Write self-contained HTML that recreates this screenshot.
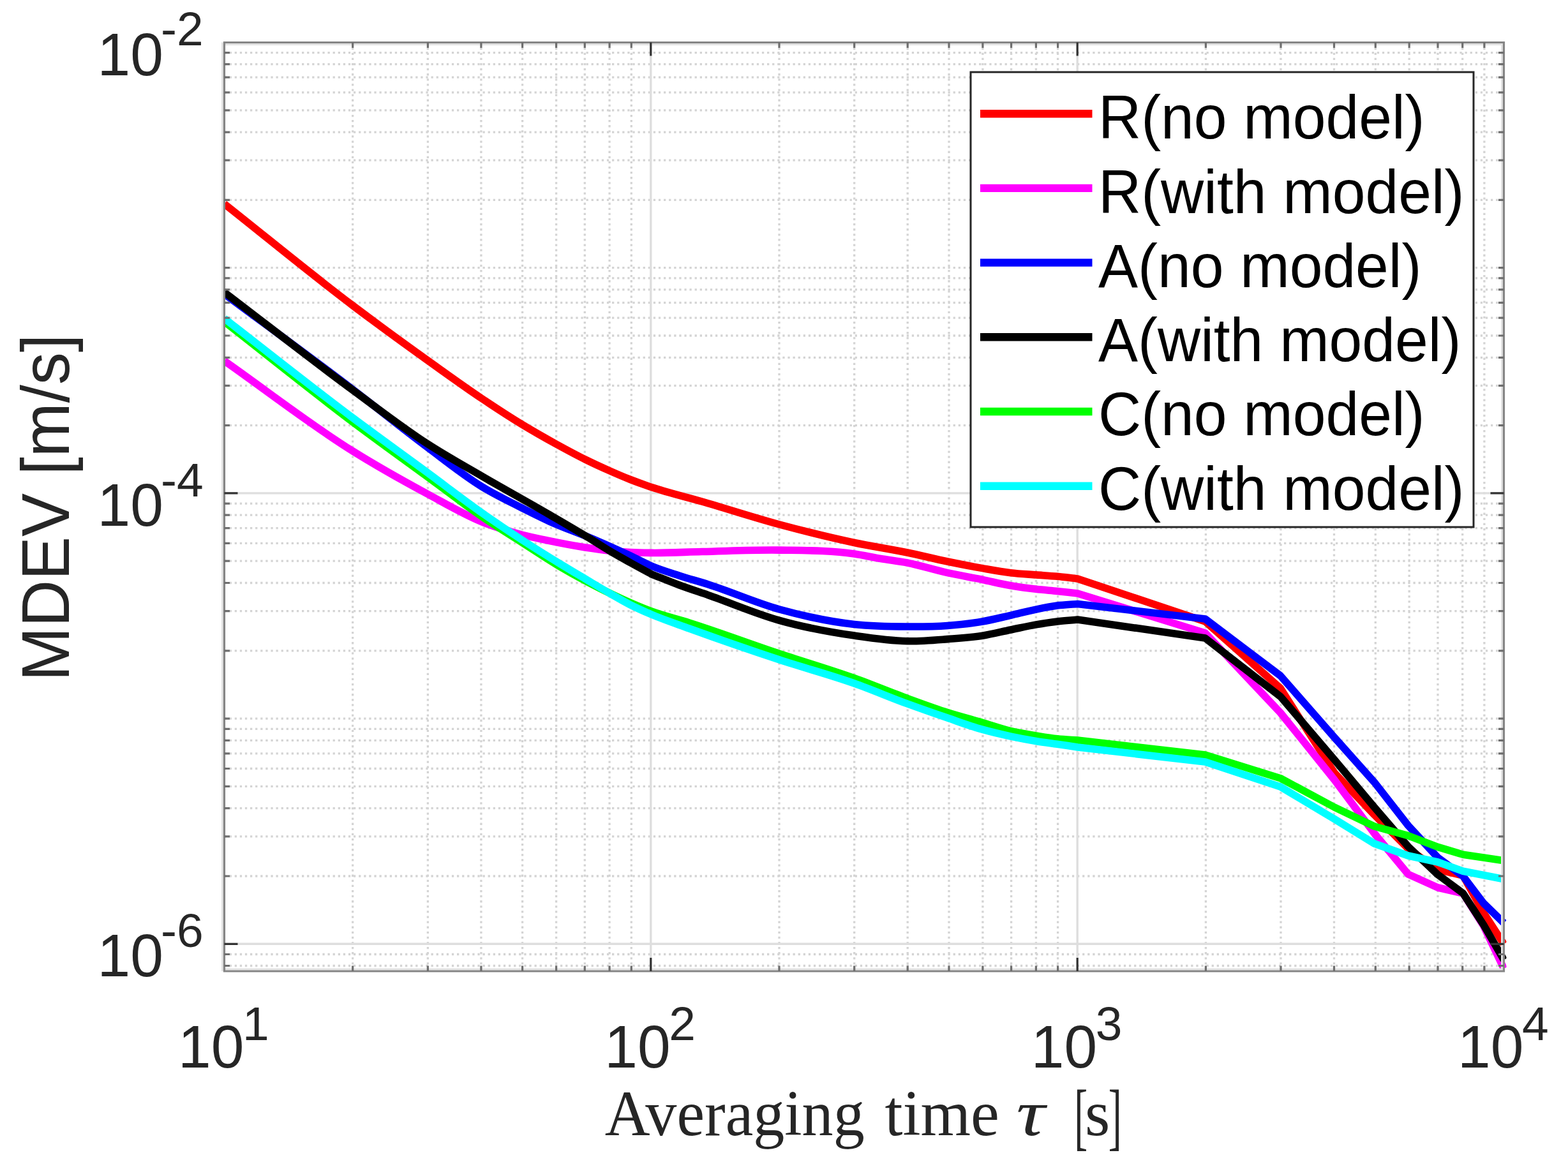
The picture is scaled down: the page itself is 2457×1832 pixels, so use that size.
<!DOCTYPE html><html><head><meta charset="utf-8"><style>html,body{margin:0;padding:0;background:#fff;overflow:hidden}svg{display:block}</style></head><body>
<svg xmlns="http://www.w3.org/2000/svg" width="2457" height="1832" viewBox="0 0 2457 1832">
<rect x="0" y="0" width="2457" height="1832" fill="#fff"/>
<path d="M552.7 66.5V1522.0 M670.4 66.5V1522.0 M753.9 66.5V1522.0 M818.6 66.5V1522.0 M871.6 66.5V1522.0 M916.3 66.5V1522.0 M955.1 66.5V1522.0 M989.3 66.5V1522.0 M1221.0 66.5V1522.0 M1338.7 66.5V1522.0 M1422.2 66.5V1522.0 M1487.0 66.5V1522.0 M1539.9 66.5V1522.0 M1584.6 66.5V1522.0 M1623.4 66.5V1522.0 M1657.6 66.5V1522.0 M1889.4 66.5V1522.0 M2007.0 66.5V1522.0 M2090.5 66.5V1522.0 M2155.3 66.5V1522.0 M2208.2 66.5V1522.0 M2253.0 66.5V1522.0 M2291.7 66.5V1522.0 M2325.9 66.5V1522.0 M351.5 1513.5H2356.5 M351.5 1495.5H2356.5 M351.5 1373.0H2356.5 M351.5 1310.8H2356.5 M351.5 1266.7H2356.5 M351.5 1232.4H2356.5 M351.5 1204.5H2356.5 M351.5 1180.8H2356.5 M351.5 1160.3H2356.5 M351.5 1142.3H2356.5 M351.5 1126.1H2356.5 M351.5 1019.8H2356.5 M351.5 957.6H2356.5 M351.5 913.5H2356.5 M351.5 879.2H2356.5 M351.5 851.3H2356.5 M351.5 827.6H2356.5 M351.5 807.1H2356.5 M351.5 789.1H2356.5 M351.5 666.6H2356.5 M351.5 604.4H2356.5 M351.5 560.3H2356.5 M351.5 526.0H2356.5 M351.5 498.1H2356.5 M351.5 474.4H2356.5 M351.5 453.9H2356.5 M351.5 435.9H2356.5 M351.5 419.7H2356.5 M351.5 313.4H2356.5 M351.5 251.2H2356.5 M351.5 207.1H2356.5 M351.5 172.8H2356.5 M351.5 144.9H2356.5 M351.5 121.2H2356.5 M351.5 100.7H2356.5 M351.5 82.7H2356.5" stroke="#d4d4d4" stroke-width="3.3" stroke-dasharray="3.3 4.8" fill="none"/>
<path d="M1019.8 66.5V1522.0 M1688.2 66.5V1522.0 M351.5 772.9H2356.5 M351.5 1479.3H2356.5" stroke="#dedede" stroke-width="3.4" fill="none"/>
<defs><clipPath id="ax"><rect x="347.5" y="66.5" width="2013.0" height="1457.5"/></clipPath></defs>
<g clip-path="url(#ax)" fill="none" stroke-width="11.6" stroke-linejoin="round">
<path d="M351.5 319.5C418.9 372.8 486.3 428.7 553.7 479.5C592.4 508.7 631.0 536.8 669.7 564.5C698.4 585.0 727.0 605.8 755.7 625.0C776.4 638.8 797.1 652.4 817.8 665.0C835.7 675.9 853.7 686.1 871.6 696.0C887.1 704.5 902.5 712.9 918.0 720.5C930.2 726.5 942.4 732.1 954.6 737.5C965.6 742.4 976.7 747.2 987.7 751.5C998.8 755.8 1009.8 759.8 1020.9 763.5C1047.3 772.4 1073.6 778.4 1100.0 786.0C1140.5 797.7 1181.0 811.1 1221.5 822.0C1260.6 832.5 1299.6 842.3 1338.7 850.5C1366.4 856.3 1394.0 860.3 1421.7 866.0C1442.7 870.3 1463.7 875.7 1484.7 880.0C1503.0 883.8 1521.3 887.4 1539.6 890.6C1554.3 893.2 1569.1 896.0 1583.8 897.7C1597.0 899.3 1610.3 899.9 1623.5 900.9C1634.5 901.7 1645.6 902.3 1656.6 903.3C1667.2 904.3 1677.9 905.8 1688.5 907.0L1888.5 974.0L2006.4 1078.6L2090.9 1211.0L2153.5 1277.0L2206.5 1330.0L2253.0 1362.8L2292.5 1372.0L2324.7 1430.5L2356.5 1479.5" stroke="#ff0000"/>
<path d="M351.5 565.5C418.9 612.8 486.3 665.7 553.7 707.5C592.3 731.5 631.0 753.2 669.6 774.0C698.3 789.4 726.9 806.5 755.6 818.0C776.3 826.3 797.1 832.6 817.8 838.0C831.9 841.7 845.9 844.5 860.0 847.4C879.1 851.4 898.3 855.1 917.4 858.0C929.9 859.9 942.5 861.7 955.0 863.0C966.0 864.1 977.0 864.9 988.0 865.5C999.0 866.1 1009.9 866.3 1020.9 866.4C1047.3 866.7 1073.6 865.1 1100.0 864.5C1140.5 863.6 1181.0 861.5 1221.5 862.1C1260.6 862.7 1299.6 862.2 1338.7 868.0C1352.5 870.0 1366.2 873.2 1380.0 875.5C1393.9 877.8 1407.8 879.3 1421.7 882.0C1442.7 886.1 1463.7 893.1 1484.7 897.7C1503.0 901.7 1521.3 904.8 1539.6 908.5C1554.3 911.5 1569.1 915.2 1583.8 917.7C1597.0 920.0 1610.3 921.8 1623.5 923.3C1634.5 924.6 1645.6 925.3 1656.6 926.4C1667.2 927.5 1677.9 928.8 1688.5 930.0L1888.5 992.0L2006.4 1117.0L2090.9 1222.0L2153.5 1306.0L2206.5 1370.0L2253.0 1391.0L2292.5 1400.0L2324.7 1451.0L2356.5 1518.0" stroke="#ff00ff"/>
<path d="M351.5 460.5C418.9 510.7 486.3 559.5 553.7 611.0C592.3 640.5 631.0 672.1 669.6 700.9C698.3 722.3 726.9 745.5 755.6 763.0C776.3 775.7 797.1 785.5 817.8 796.0C831.9 803.1 845.9 810.2 860.0 816.6C883.3 827.3 906.7 835.0 930.0 845.0C949.3 853.3 968.7 861.9 988.0 871.0C999.0 876.2 1009.9 882.3 1020.9 887.0C1035.3 893.1 1049.6 897.3 1064.0 902.0C1079.3 907.0 1094.7 911.1 1110.0 916.0C1147.2 927.8 1184.3 944.7 1221.5 955.0C1260.6 965.8 1299.6 974.3 1338.7 978.5C1366.4 981.5 1394.0 981.9 1421.7 982.0C1442.7 982.1 1463.7 982.1 1484.7 980.5C1503.0 979.1 1521.3 977.2 1539.6 974.0C1554.3 971.4 1569.1 967.6 1583.8 964.3C1597.0 961.3 1610.3 957.8 1623.5 955.1C1634.5 952.8 1645.6 950.5 1656.6 949.1C1667.2 947.7 1677.9 947.4 1688.5 946.5L1888.5 970.0L2006.4 1059.0L2090.9 1155.6L2153.5 1225.8L2206.5 1293.6L2253.0 1344.0L2292.5 1373.0L2324.7 1415.5L2356.5 1446.5" stroke="#0000ff"/>
<path d="M351.5 458.0C418.9 509.3 486.3 562.5 553.7 612.0C592.3 640.4 631.0 670.4 669.6 695.4C698.3 714.0 726.9 729.8 755.6 746.5C790.4 766.8 825.2 785.7 860.0 806.0C883.3 819.6 906.7 833.1 930.0 847.5C938.3 852.6 946.5 858.0 954.8 863.0C965.8 869.6 976.7 875.6 987.7 881.7C998.8 887.9 1009.8 893.8 1020.9 899.8C1035.3 905.5 1049.6 911.5 1064.0 916.8C1079.3 922.5 1094.7 927.4 1110.0 932.7C1147.2 945.6 1184.3 961.9 1221.5 972.3C1260.6 983.3 1299.6 990.4 1338.7 996.1C1366.4 1000.1 1394.0 1004.2 1421.7 1004.7C1442.7 1005.1 1463.7 1003.2 1484.7 1001.6C1503.0 1000.2 1521.3 999.1 1539.6 996.2C1554.3 993.9 1569.1 990.0 1583.8 987.0C1597.0 984.3 1610.3 981.2 1623.5 978.9C1634.5 977.0 1645.6 975.3 1656.6 974.0C1667.2 972.7 1677.9 972.0 1688.5 971.0L1888.5 1000.0L2006.4 1091.6L2090.9 1190.4L2153.5 1265.0L2206.5 1326.6L2253.0 1370.7L2292.5 1399.8L2324.7 1449.4L2356.5 1504.4" stroke="#000000"/>
<path d="M351.5 504.0C418.9 556.7 486.3 611.4 553.7 662.0C592.3 691.0 631.0 718.7 669.6 747.0C698.3 768.0 726.9 790.5 755.6 810.0C776.3 824.1 797.1 836.8 817.8 850.0C838.5 863.2 859.3 877.3 880.0 889.5C900.0 901.3 920.0 912.0 940.0 922.0C967.0 935.5 993.9 948.2 1020.9 958.0C1040.6 965.2 1060.3 969.8 1080.0 976.0C1127.2 990.9 1174.3 1008.7 1221.5 1024.5C1260.6 1037.5 1299.6 1048.8 1338.7 1062.8C1366.4 1072.7 1394.0 1084.4 1421.7 1094.5C1442.7 1102.1 1463.6 1109.9 1484.6 1116.6C1502.8 1122.4 1520.9 1127.0 1539.1 1132.3C1554.1 1136.7 1569.1 1142.1 1584.1 1145.7C1597.2 1148.8 1610.2 1150.8 1623.3 1152.9C1634.5 1154.7 1645.6 1156.6 1656.8 1157.8C1667.4 1158.9 1677.9 1159.3 1688.5 1160.0L1888.5 1183.0L2006.4 1219.7L2090.9 1265.0L2153.5 1295.0L2206.5 1309.6L2253.0 1327.4L2292.5 1339.2L2324.7 1344.0L2356.5 1348.7" stroke="#00ff00"/>
<path d="M351.5 499.0C418.9 551.2 486.3 605.1 553.7 655.5C592.3 684.4 631.0 712.1 669.6 740.5C698.3 761.6 726.9 783.9 755.6 804.0C776.3 818.5 797.1 832.5 817.8 846.0C838.5 859.5 859.3 872.4 880.0 885.0C892.3 892.5 904.5 899.7 916.8 907.0C929.6 914.6 942.3 922.3 955.1 929.6C966.1 935.9 977.0 942.4 988.0 948.0C999.0 953.6 1009.9 958.3 1020.9 963.0C1040.6 971.4 1060.3 977.8 1080.0 985.0C1127.2 1002.2 1174.3 1018.5 1221.5 1034.0C1260.6 1046.9 1299.6 1057.1 1338.7 1071.0C1366.4 1080.8 1394.0 1092.8 1421.7 1102.9C1442.7 1110.6 1463.6 1117.9 1484.6 1125.1C1502.8 1131.3 1520.9 1138.1 1539.1 1143.2C1554.1 1147.4 1569.1 1150.9 1584.1 1154.1C1597.2 1156.9 1610.2 1159.3 1623.3 1161.4C1634.5 1163.2 1645.6 1164.6 1656.8 1166.2C1667.4 1167.8 1677.9 1169.4 1688.5 1171.0L1888.5 1194.0L2006.4 1233.0L2090.9 1283.5L2153.5 1322.0L2206.5 1341.0L2253.0 1351.0L2292.5 1365.2L2324.7 1371.5L2356.5 1377.8" stroke="#00ffff"/>
</g>
<path d="M348.5 1522.0V66.5M351.5 69.5H2356.5M2353.5 66.5V1522.0M351.5 1519.0H2356.5" stroke="#e2e2e2" stroke-width="3" fill="none"/>
<path d="M351.5 1522.0V66.5H2356.5V1522.0Z" stroke="#858585" stroke-width="3.2" fill="none"/>
<path d="M552.7 1522.0v-8.5M552.7 66.5v8.5M670.4 1522.0v-8.5M670.4 66.5v8.5M753.9 1522.0v-8.5M753.9 66.5v8.5M818.6 1522.0v-8.5M818.6 66.5v8.5M871.6 1522.0v-8.5M871.6 66.5v8.5M916.3 1522.0v-8.5M916.3 66.5v8.5M955.1 1522.0v-8.5M955.1 66.5v8.5M989.3 1522.0v-8.5M989.3 66.5v8.5M1221.0 1522.0v-8.5M1221.0 66.5v8.5M1338.7 1522.0v-8.5M1338.7 66.5v8.5M1422.2 1522.0v-8.5M1422.2 66.5v8.5M1487.0 1522.0v-8.5M1487.0 66.5v8.5M1539.9 1522.0v-8.5M1539.9 66.5v8.5M1584.6 1522.0v-8.5M1584.6 66.5v8.5M1623.4 1522.0v-8.5M1623.4 66.5v8.5M1657.6 1522.0v-8.5M1657.6 66.5v8.5M1889.4 1522.0v-8.5M1889.4 66.5v8.5M2007.0 1522.0v-8.5M2007.0 66.5v8.5M2090.5 1522.0v-8.5M2090.5 66.5v8.5M2155.3 1522.0v-8.5M2155.3 66.5v8.5M2208.2 1522.0v-8.5M2208.2 66.5v8.5M2253.0 1522.0v-8.5M2253.0 66.5v8.5M2291.7 1522.0v-8.5M2291.7 66.5v8.5M2325.9 1522.0v-8.5M2325.9 66.5v8.5M351.5 1513.5h8.5M2356.5 1513.5h-8.5M351.5 1495.5h8.5M2356.5 1495.5h-8.5M351.5 1373.0h8.5M2356.5 1373.0h-8.5M351.5 1310.8h8.5M2356.5 1310.8h-8.5M351.5 1266.7h8.5M2356.5 1266.7h-8.5M351.5 1232.4h8.5M2356.5 1232.4h-8.5M351.5 1204.5h8.5M2356.5 1204.5h-8.5M351.5 1180.8h8.5M2356.5 1180.8h-8.5M351.5 1160.3h8.5M2356.5 1160.3h-8.5M351.5 1142.3h8.5M2356.5 1142.3h-8.5M351.5 1126.1h8.5M2356.5 1126.1h-8.5M351.5 1019.8h8.5M2356.5 1019.8h-8.5M351.5 957.6h8.5M2356.5 957.6h-8.5M351.5 913.5h8.5M2356.5 913.5h-8.5M351.5 879.2h8.5M2356.5 879.2h-8.5M351.5 851.3h8.5M2356.5 851.3h-8.5M351.5 827.6h8.5M2356.5 827.6h-8.5M351.5 807.1h8.5M2356.5 807.1h-8.5M351.5 789.1h8.5M2356.5 789.1h-8.5M351.5 666.6h8.5M2356.5 666.6h-8.5M351.5 604.4h8.5M2356.5 604.4h-8.5M351.5 560.3h8.5M2356.5 560.3h-8.5M351.5 526.0h8.5M2356.5 526.0h-8.5M351.5 498.1h8.5M2356.5 498.1h-8.5M351.5 474.4h8.5M2356.5 474.4h-8.5M351.5 453.9h8.5M2356.5 453.9h-8.5M351.5 435.9h8.5M2356.5 435.9h-8.5M351.5 419.7h8.5M2356.5 419.7h-8.5M351.5 313.4h8.5M2356.5 313.4h-8.5M351.5 251.2h8.5M2356.5 251.2h-8.5M351.5 207.1h8.5M2356.5 207.1h-8.5M351.5 172.8h8.5M2356.5 172.8h-8.5M351.5 144.9h8.5M2356.5 144.9h-8.5M351.5 121.2h8.5M2356.5 121.2h-8.5M351.5 100.7h8.5M2356.5 100.7h-8.5M351.5 82.7h8.5M2356.5 82.7h-8.5" stroke="#6e6e6e" stroke-width="3.2" fill="none"/>
<path d="M1019.8 1522.0v-21M1019.8 66.5v21M1688.2 1522.0v-21M1688.2 66.5v21M351.5 772.9h21M2356.5 772.9h-21M351.5 1479.3h21M2356.5 1479.3h-21" stroke="#333" stroke-width="3.2" fill="none"/>
<text transform="translate(152.5 117.5) scale(1 1.025)" style="font-family:&quot;Liberation Sans&quot;, Arial, sans-serif;font-size:93px" fill="#262626">10</text>
<text x="252.0" y="71.1" style="font-family:&quot;Liberation Sans&quot;, Arial, sans-serif;font-size:75px" fill="#262626">-2</text>
<text transform="translate(152.5 823.9) scale(1 1.025)" style="font-family:&quot;Liberation Sans&quot;, Arial, sans-serif;font-size:93px" fill="#262626">10</text>
<text x="252.0" y="777.5" style="font-family:&quot;Liberation Sans&quot;, Arial, sans-serif;font-size:75px" fill="#262626">-4</text>
<text transform="translate(152.5 1530.3) scale(1 1.025)" style="font-family:&quot;Liberation Sans&quot;, Arial, sans-serif;font-size:93px" fill="#262626">10</text>
<text x="252.0" y="1483.9" style="font-family:&quot;Liberation Sans&quot;, Arial, sans-serif;font-size:75px" fill="#262626">-6</text>
<text transform="translate(279.0 1673) scale(1 1.025)" style="font-family:&quot;Liberation Sans&quot;, Arial, sans-serif;font-size:93px" fill="#262626">10</text>
<text x="380.0" y="1630" style="font-family:&quot;Liberation Sans&quot;, Arial, sans-serif;font-size:75px" fill="#262626">1</text>
<text transform="translate(947.3 1673) scale(1 1.025)" style="font-family:&quot;Liberation Sans&quot;, Arial, sans-serif;font-size:93px" fill="#262626">10</text>
<text x="1048.3" y="1630" style="font-family:&quot;Liberation Sans&quot;, Arial, sans-serif;font-size:75px" fill="#262626">2</text>
<text transform="translate(1615.7 1673) scale(1 1.025)" style="font-family:&quot;Liberation Sans&quot;, Arial, sans-serif;font-size:93px" fill="#262626">10</text>
<text x="1716.7" y="1630" style="font-family:&quot;Liberation Sans&quot;, Arial, sans-serif;font-size:75px" fill="#262626">3</text>
<text transform="translate(2284.0 1673) scale(1 1.025)" style="font-family:&quot;Liberation Sans&quot;, Arial, sans-serif;font-size:93px" fill="#262626">10</text>
<text x="2385.0" y="1630" style="font-family:&quot;Liberation Sans&quot;, Arial, sans-serif;font-size:75px" fill="#262626">4</text>
<text transform="translate(108.1 1067.5) rotate(-90) scale(0.99 1.02)" x="0" y="0" style="font-family:&quot;Liberation Sans&quot;, Arial, sans-serif;font-size:103px" fill="#262626">MDEV [m/s]</text>
<text x="947.7" y="1779.3" style="font-family:&quot;Liberation Serif&quot;, &quot;Times New Roman&quot;, serif;font-size:101px" fill="#262626" textLength="407.1" lengthAdjust="spacingAndGlyphs">Averaging</text>
<text x="1386.4" y="1779.3" style="font-family:&quot;Liberation Serif&quot;, &quot;Times New Roman&quot;, serif;font-size:101px" fill="#262626">time</text>
<text x="1592.6" y="1779.3" style="font-family:&quot;Liberation Serif&quot;, &quot;Times New Roman&quot;, serif;font-size:101px;font-style:italic" fill="#262626" textLength="45" lengthAdjust="spacingAndGlyphs">&#964;</text>
<text transform="translate(1683.3 1788.2) scale(0.624 1.1446)" x="0" y="0" style="font-family:&quot;Liberation Serif&quot;, &quot;Times New Roman&quot;, serif;font-size:101px" fill="#262626">[</text>
<text x="1699.9" y="1779.3" style="font-family:&quot;Liberation Serif&quot;, &quot;Times New Roman&quot;, serif;font-size:101px" fill="#262626">s</text>
<text transform="translate(1736.7 1788.2) scale(0.624 1.1446)" x="0" y="0" style="font-family:&quot;Liberation Serif&quot;, &quot;Times New Roman&quot;, serif;font-size:101px" fill="#262626">]</text>
<rect x="1521" y="113" width="788" height="713" fill="#fff" stroke="#262626" stroke-width="3"/>
<path d="M1536 178.2H1711.5" stroke="#ff0000" stroke-width="12.4"/>
<text transform="translate(1721 217.3) scale(1 1.04)" x="0" y="0" style="font-family:&quot;Liberation Sans&quot;, Arial, sans-serif;font-size:93px" fill="#000">R(no model)</text>
<path d="M1536 294.9H1711.5" stroke="#ff00ff" stroke-width="12.4"/>
<text transform="translate(1721 333.6) scale(1 1.04)" x="0" y="0" style="font-family:&quot;Liberation Sans&quot;, Arial, sans-serif;font-size:93px" fill="#000">R(with model)</text>
<path d="M1536 411.6H1711.5" stroke="#0000ff" stroke-width="12.4"/>
<text transform="translate(1721 449.8) scale(1 1.04)" x="0" y="0" style="font-family:&quot;Liberation Sans&quot;, Arial, sans-serif;font-size:93px" fill="#000">A(no model)</text>
<path d="M1536 528.3H1711.5" stroke="#000000" stroke-width="12.4"/>
<text transform="translate(1721 566.1) scale(1 1.04)" x="0" y="0" style="font-family:&quot;Liberation Sans&quot;, Arial, sans-serif;font-size:93px" fill="#000">A(with model)</text>
<path d="M1536 645.0H1711.5" stroke="#00ff00" stroke-width="12.4"/>
<text transform="translate(1721 682.3) scale(1 1.04)" x="0" y="0" style="font-family:&quot;Liberation Sans&quot;, Arial, sans-serif;font-size:93px" fill="#000">C(no model)</text>
<path d="M1536 761.7H1711.5" stroke="#00ffff" stroke-width="12.4"/>
<text transform="translate(1721 798.6) scale(1 1.04)" x="0" y="0" style="font-family:&quot;Liberation Sans&quot;, Arial, sans-serif;font-size:93px" fill="#000">C(with model)</text>
</svg></body></html>
